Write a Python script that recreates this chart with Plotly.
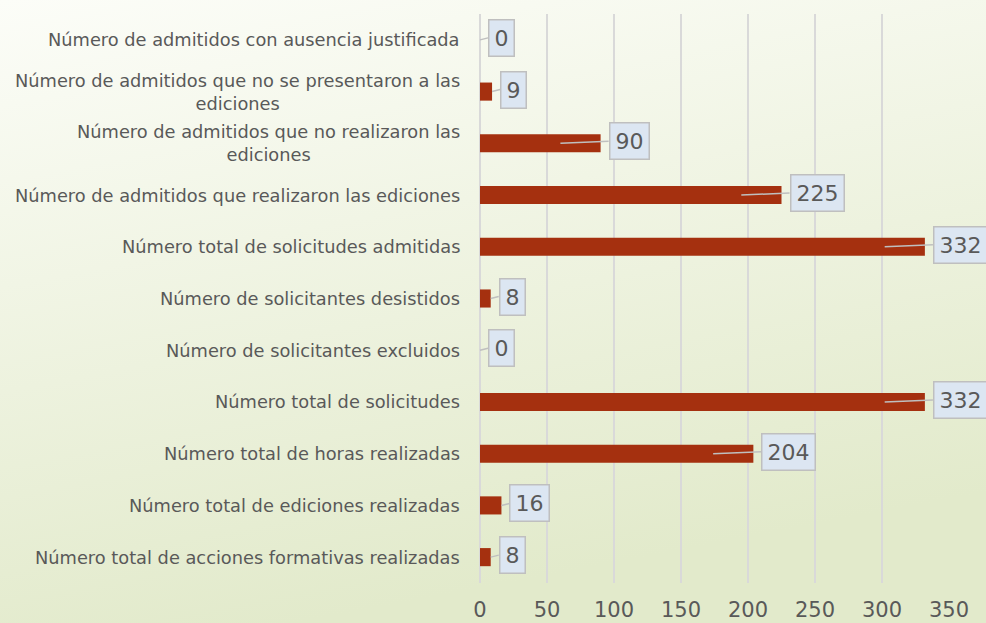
import base64
import plotly.graph_objects as go

CATEGORIES = [
    "Número de admitidos con ausencia justificada",
    "Número de admitidos que no se presentaron a las<br>ediciones",
    "Número de admitidos que no realizaron las<br>ediciones",
    "Número de admitidos que realizaron las ediciones",
    "Número total de solicitudes admitidas",
    "Número de solicitantes desistidos",
    "Número de solicitantes excluidos",
    "Número total de solicitudes",
    "Número total de horas realizadas",
    "Número total de ediciones realizadas",
    "Número total de acciones formativas realizadas",
]
VALUES = [0, 9, 90, 225, 332, 8, 0, 332, 204, 16, 8]
X_TICKS = [0, 50, 100, 150, 200, 250, 300, 350]

BAR = "#a5300f"; TEXT = "#595959"; GRID = "#d9d9d9"
BOX_FILL = "#dce6f2"; BOX_LINE = "#bfbfbf"
W, H = 986, 623
L, R, T, B = 480, 37, 14, 40

ids = list(range(len(CATEGORIES)))

fig = go.Figure(go.Bar(x=VALUES, y=ids, orientation="h", width=0.35,
                       marker=dict(color=BAR, line=dict(width=0)), hoverinfo="x"))

# category labels as annotations so wrapped lines stay centred
for i, c in enumerate(CATEGORIES):
    fig.add_annotation(x=0, xref="paper", y=i, yref="y", text=c, showarrow=False,
                       xanchor="right", xshift=-18, align="center",
                       font=dict(family="DejaVu Sans", size=17.8, color=TEXT))

# callout style data labels
for i, v in enumerate(VALUES):
    tip = v - 30 if v >= 50 else v
    fig.add_annotation(x=tip, y=i, xref="x", yref="y", text=str(v),
                       showarrow=True, arrowhead=0, arrowwidth=1.5, arrowcolor=BOX_LINE,
                       axref="x", ax=v + 6, ayref="pixel", ay=-2, xanchor="left",
                       bgcolor=BOX_FILL, bordercolor=BOX_LINE, borderwidth=1.5, borderpad=5,
                       font=dict(family="DejaVu Sans", size=22, color=TEXT))

# soft green gradient background
svg = ('<svg xmlns="http://www.w3.org/2000/svg" width="986" height="623">'
       '<defs><linearGradient id="g" x1="0" y1="0" x2="0.3" y2="1">'
       '<stop offset="0" stop-color="#fcfdf8"/><stop offset="1" stop-color="#e2eacb"/>'
       '</linearGradient></defs><rect width="986" height="623" fill="url(#g)"/></svg>')
src = "data:image/svg+xml;base64," + base64.b64encode(svg.encode()).decode()
pw, ph = W - L - R, H - T - B
fig.add_layout_image(source=src, xref="paper", yref="paper", x=-L / pw, y=1 + T / ph,
                     sizex=W / pw, sizey=H / ph, sizing="stretch", xanchor="left",
                     yanchor="top", layer="below")

fig.update_xaxes(range=[0, 350], tickvals=X_TICKS, showgrid=True, gridcolor=GRID, gridwidth=1.5,
                 zeroline=True, zerolinecolor=GRID, zerolinewidth=1.5, showline=False,
                 ticks="outside", ticklen=8, tickcolor="rgba(0,0,0,0)", automargin=False,
                 tickfont=dict(family="DejaVu Sans", size=21, color=TEXT))
fig.update_yaxes(range=[len(CATEGORIES) - 0.5, -0.5], showticklabels=False, showgrid=False,
                 zeroline=False, showline=False, automargin=False)
fig.update_layout(width=W, height=H, margin=dict(l=L, r=R, t=T, b=B, autoexpand=False),
                  paper_bgcolor="#eef2e0", plot_bgcolor="rgba(0,0,0,0)",
                  showlegend=False, bargap=0.65)

fig.write_html("out.html", config={"displayModeBar": False},
               post_script="document.body.style.margin='0';")
